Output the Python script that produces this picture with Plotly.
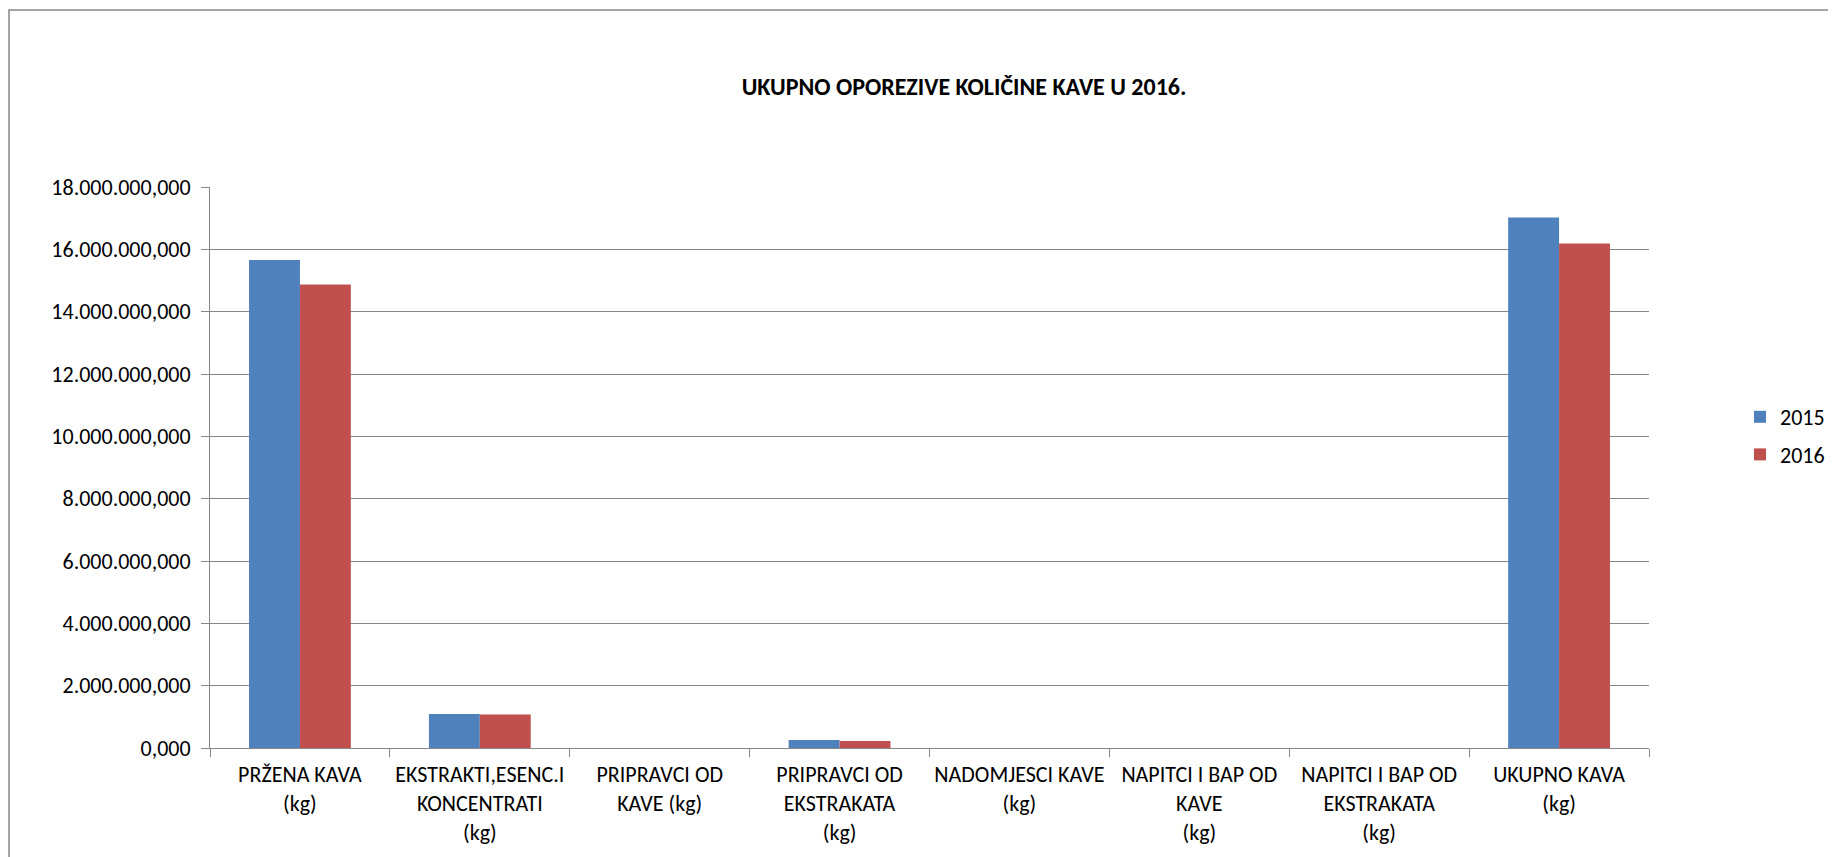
import plotly.graph_objects as go

categories = [
    "PRŽENA KAVA<br>(kg)",
    "EKSTRAKTI,ESENC.I<br>KONCENTRATI<br>(kg)",
    "PRIPRAVCI OD<br>KAVE (kg)",
    "PRIPRAVCI OD<br>EKSTRAKATA<br>(kg)",
    "NADOMJESCI KAVE<br>(kg)",
    "NAPITCI I BAP OD<br>KAVE<br>(kg)",
    "NAPITCI I BAP OD<br>EKSTRAKATA<br>(kg)",
    "UKUPNO KAVA<br>(kg)",
]
values_2015 = [15660000, 1090000, 0, 260000, 0, 0, 0, 17020000]
values_2016 = [14870000, 1075000, 0, 225000, 0, 0, 0, 16190000]
y_ticks = [0, 2000000, 4000000, 6000000, 8000000, 10000000, 12000000, 14000000, 16000000, 18000000]

FONT = "Carlito, Calibri, Lato, sans-serif"
GRID = "#868686"

fig = go.Figure()
fig.add_trace(go.Bar(x=categories, y=values_2015, name="2015", marker_color="#4F81BD",
                     marker_line_width=0, legendgroup="a"))
fig.add_trace(go.Bar(x=categories, y=values_2016, name="2016", marker_color="#C0504D",
                     marker_line_width=0, legendgroup="b"))

OFF = 8  # page body margin
W, H = 1836 - OFF, 857 - OFF
L, R, T, B = 210 - OFF, 1649 - OFF, 187 - OFF, 748 - OFF
pw, ph = R - L, B - T

fig.update_layout(
    width=W, height=H,
    margin=dict(l=L, r=W - R, t=T, b=H - B, autoexpand=False),
    paper_bgcolor="white", plot_bgcolor="white",
    separators=",.",
    font=dict(family=FONT, size=22, color="#000000"),
    title=dict(text="<b>UKUPNO OPOREZIVE KOLIČINE KAVE U 2016.</b>",
               x=(964 - OFF) / W, xanchor="center", y=1 - (87 - OFF) / H, yanchor="middle",
               font=dict(family=FONT, size=24, color="#000000")),
    barmode="group", bargap=0.434, bargroupgap=0,
    showlegend=True,
    legend=dict(x=(1740 - OFF - L) / pw, xanchor="left", y=(B - (436 - OFF)) / ph, yanchor="middle",
                font=dict(family=FONT, size=22), tracegroupgap=6,
                bgcolor="rgba(0,0,0,0)", itemclick=False),
    xaxis=dict(type="category", showline=True, linecolor=GRID, linewidth=1,
               ticks="outside", tickson="boundaries", ticklen=8, tickcolor=GRID,
               tickfont=dict(family=FONT, size=22), ticklabelstandoff=7,
               showgrid=False, fixedrange=True),
    yaxis=dict(range=[0, 18000000], tickvals=y_ticks, tickformat=",.3f",
               showline=True, linecolor=GRID, linewidth=1,
               ticks="outside", ticklen=8, tickcolor=GRID,
               ticklabelstandoff=6,
               showgrid=True, gridcolor=GRID, gridwidth=1, zeroline=False,
               tickfont=dict(family=FONT, size=22), fixedrange=True),
)

# outer chart border
fig.add_shape(type="rect", xref="paper", yref="paper",
              x0=(9 - OFF - L) / pw, x1=(W + 5 - L) / pw,
              y0=(B - (H + 5)) / ph, y1=(B - (10 - OFF)) / ph,
              line=dict(color="#868686", width=1.5), fillcolor="rgba(0,0,0,0)", layer="below")

fig.write_html("out.html")
